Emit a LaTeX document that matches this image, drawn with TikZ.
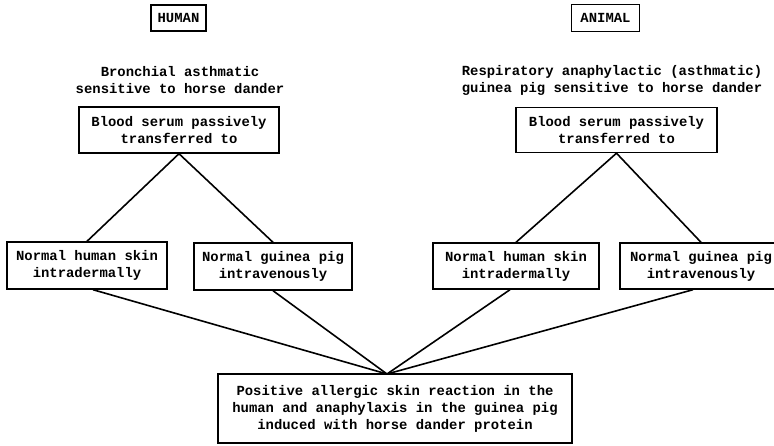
\documentclass[tikz,border=0pt]{standalone}
\usepackage{fontspec}
\setmonofont{Liberation Mono}
\begin{document}
\begin{tikzpicture}[x=1pt,y=-1pt,
  every node/.style={font=\ttfamily\bfseries\fontsize{13.9}{17}\selectfont, inner sep=0pt, align=center},
  box/.style={draw, line width=1.4pt, rectangle},
  link/.style={line width=1.6pt}]
\useasboundingbox (0,0) rectangle (774,445);
\fill[white] (0,0) rectangle (774,445);

\node[box, minimum width=55, minimum height=26] (human) at (178.5,18) {HUMAN};
\node[box, minimum width=68, minimum height=27] (animal) at (605.5,18) {ANIMAL};

\node (ltext) at (180,80) {Bronchial asthmatic\\sensitive to horse dander};
\node (rtext) at (612,80) {Respiratory anaphylactic (asthmatic)\\guinea pig sensitive to horse dander};

\node[box, minimum width=200, minimum height=46] (lblood) at (179,130) {Blood serum passively\\transferred to};
\node[box, minimum width=201, minimum height=45] (rblood) at (616.5,130) {Blood serum passively\\transferred to};

\node[box, minimum width=160, minimum height=47] (lhs) at (87,265.5) {Normal human skin\\intradermally};
\node[box, minimum width=158, minimum height=47] (lgp) at (273,266.5) {Normal guinea pig\\intravenously};
\node[box, minimum width=166, minimum height=46] (rhs) at (516,266) {Normal human skin\\intradermally};
\node[box, minimum width=162, minimum height=46] (rgp) at (701,266) {Normal guinea pig\\intravenously};

\node[box, minimum width=354, minimum height=69] (res) at (395,408.5) {Positive allergic skin reaction in the\\human and anaphylaxis in the guinea pig\\induced with horse dander protein};
\coordinate (apex) at (387,374);

\draw[link] (lblood.south) -- (lhs.north);
\draw[link] (lblood.south) -- (lgp.north);
\draw[link] (rblood.south) -- (rhs.north);
\draw[link] (rblood.south) -- (rgp.north);

\draw[link] ([xshift=6pt]lhs.south) -- (apex);
\draw[link] (lgp.south) -- (apex);
\draw[link] ([xshift=-6pt]rhs.south) -- (apex);
\draw[link] ([xshift=-8pt]rgp.south) -- (apex);
\end{tikzpicture}
\end{document}
